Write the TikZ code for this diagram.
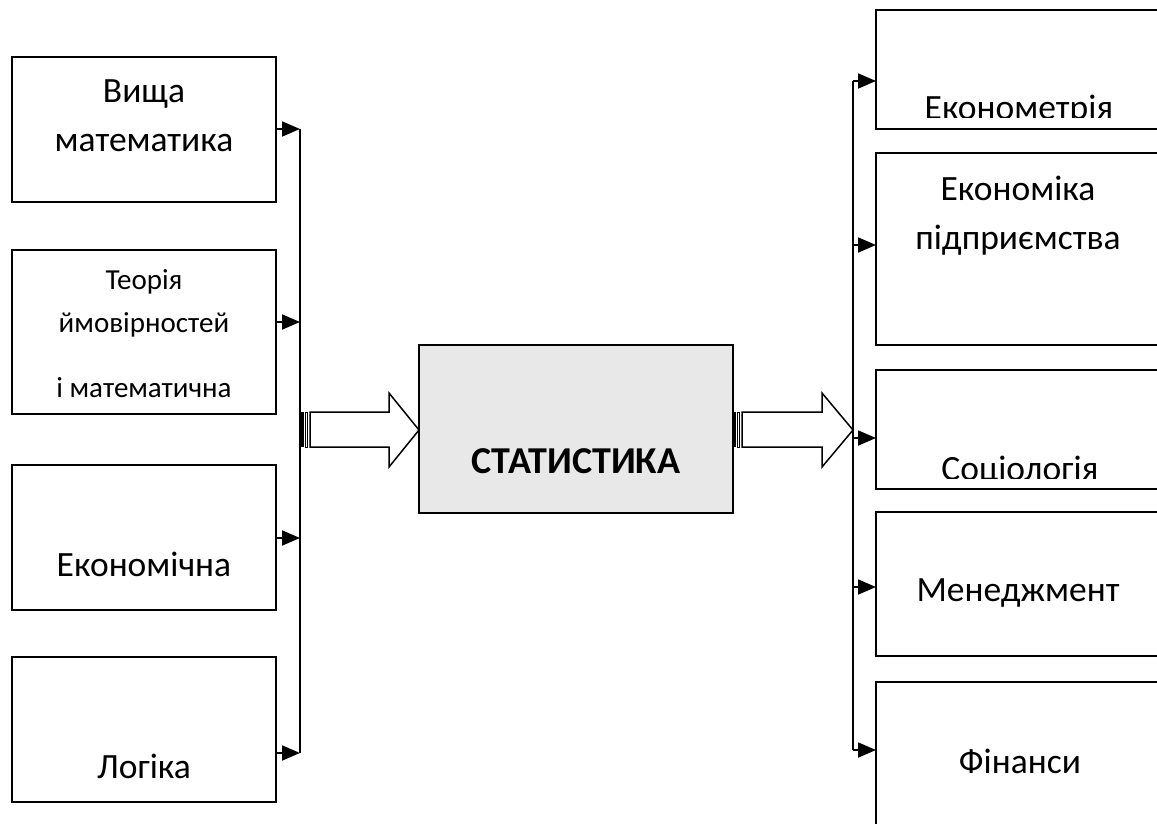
\documentclass[tikz,border=0pt]{standalone}
\usepackage{fontspec}
\setmainfont{Carlito}
\usetikzlibrary{arrows.meta}
\definecolor{statfill}{RGB}{232,232,232}
\tikzset{
  box/.style={draw, line width=1.8pt, anchor=north west, inner sep=0pt, outer sep=0pt},
  txt/.style={anchor=base, inner sep=0pt, font=\fontsize{35.5}{41}\selectfont},
  stxt/.style={anchor=base, inner sep=0pt, font=\fontsize{29}{34}\selectfont},
  bus/.style={line width=1.8pt},
  tip/.style={line width=1.8pt, -{Triangle[length=18pt,width=15pt]}},
  blk/.style={draw, line width=1.5pt, fill=white, line join=miter}
}
\begin{document}
\begin{tikzpicture}[x=1pt,y=-1pt]
\useasboundingbox (0,0) rectangle (1157,823);

% left boxes
\node[box, minimum width=264pt, minimum height=145pt] (L1) at (12,57) {};
\node[box, minimum width=264pt, minimum height=164pt] (L2) at (12,250) {};
\node[box, minimum width=264pt, minimum height=145pt] (L3) at (12,465) {};
\node[box, minimum width=264pt, minimum height=145pt] (L4) at (12,657) {};

% centre box
\node[box, fill=statfill, minimum width=314pt, minimum height=168pt] (S) at (419,345) {};

% right boxes
\node[box, minimum width=290pt, minimum height=119pt] (R1) at (876,10) {};
\node[box, minimum width=290pt, minimum height=192pt] (R2) at (876,153) {};
\node[box, minimum width=290pt, minimum height=119pt] (R3) at (876,370) {};
\node[box, minimum width=290pt, minimum height=144pt] (R4) at (876,512) {};
\node[box, minimum width=290pt, minimum height=160pt] (R5) at (876,682) {};

% left texts
\node[txt] (tL1a) at (144,102) {Вища};
\node[txt] (tL1b) at (144,151) {математика};
\node[stxt] (tL2a) at (144,289) {Теорія};
\node[stxt] (tL2b) at (144,332) {ймовірностей};
\node[stxt] (tL2c) at (144,397) {і математична};
\node[txt] (tL3) at (144,576) {Економічна};
\node[txt] (tL4) at (144,778) {Логіка};

% centre text
\node[anchor=base, inner sep=0pt, font=\fontsize{38}{44}\selectfont\bfseries] (tS) at (576,473) {СТАТИСТИКА};

% right texts
\begin{scope}
\clip (876,10) rectangle (1160,117);
\node[txt] (tR1) at (1019,119) {Економетрія};
\end{scope}
\node[txt] (tR2a) at (1018,200) {Економіка};
\node[txt] (tR2b) at (1018,249) {підприємства};
\begin{scope}
\clip (876,370) rectangle (1160,478);
\node[txt] (tR3) at (1020,480) {Соціологія};
\end{scope}
\node[txt] (tR4) at (1018,601) {Менеджмент};
\node[txt] (tR5) at (1020,773) {Фінанси};

% left bus
\coordinate (la1) at (300,129);
\coordinate (la2) at (300,322);
\coordinate (la3) at (300,538);
\coordinate (la4) at (300,753);
\draw[bus] (la1) -- (la4);
\draw[tip] (la1 -| L1.east) -- (la1);
\draw[tip] (la2 -| L2.east) -- (la2);
\draw[tip] (la3 -| L3.east) -- (la3);
\draw[tip] (la4 -| L4.east) -- (la4);

% right bus
\coordinate (ra1) at (853,81);
\coordinate (ra2) at (853,245);
\coordinate (ra3) at (853,438);
\coordinate (ra4) at (853,587);
\coordinate (ra5) at (853,750);
\draw[bus] (ra1) -- (ra5);
\draw[tip] (ra1) -- (ra1 -| R1.west);
\draw[tip] (ra2) -- (ra2 -| R2.west);
\draw[tip] (ra3) -- (ra3 -| R3.west);
\draw[tip] (ra4) -- (ra4 -| R4.west);
\draw[tip] (ra5) -- (ra5 -| R5.west);

% left block arrow
\fill (300,412) rectangle (303.5,447);
\draw[line width=1pt] (305,412) rectangle (307.5,447);
\draw[blk] (310,412) -- (389,412) -- (389,393) -- (S.west |- 0,430) -- (389,467) -- (389,447) -- (310,447) -- cycle;

% right block arrow
\fill (S.east |- 0,412) rectangle (735.5,447);
\draw[line width=1pt] (737,412) rectangle (739.5,447);
\draw[blk] (742,412) -- (822,412) -- (822,393) -- (ra3 |- 0,430) -- (822,467) -- (822,447) -- (742,447) -- cycle;
\end{tikzpicture}
\end{document}
